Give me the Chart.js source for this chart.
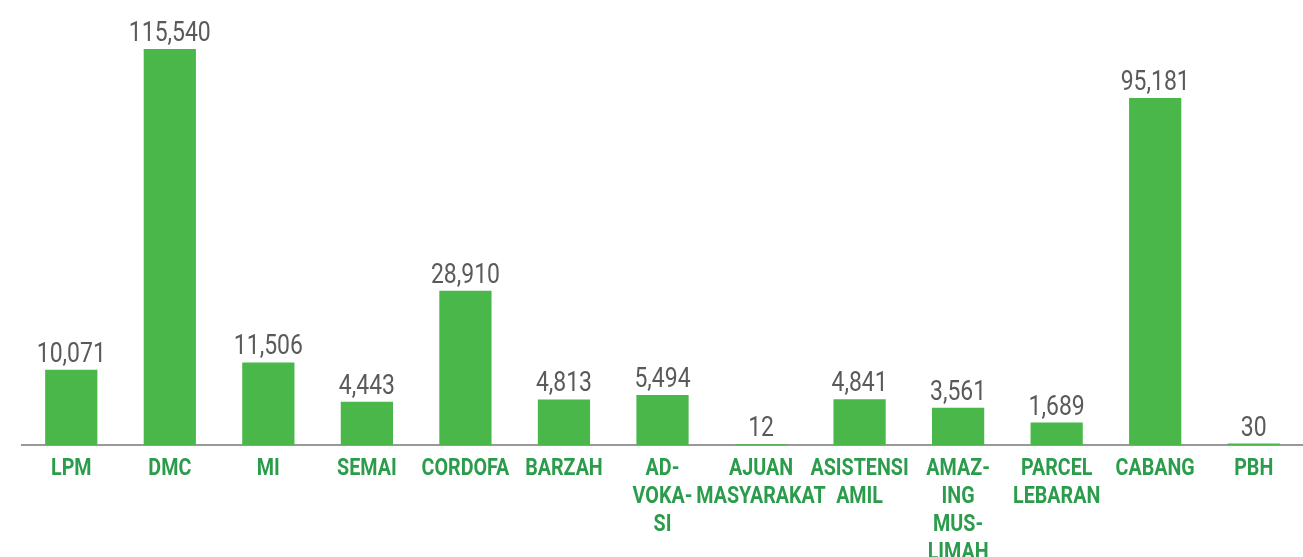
<!DOCTYPE html>
<html>
<head>
<meta charset="utf-8">
<script src="https://cdn.jsdelivr.net/npm/chart.js@4"></script>
<style>
  html, body { margin: 0; padding: 0; background: #fff; }
  #wrap { width: 1303px; height: 557px; position: relative; }
</style>
</head>
<body>
<div id="wrap"><canvas id="chart"></canvas></div>
<script>
// categories (multi-line labels as shown under the axis)
const categories = [
    ['LPM'], ['DMC'], ['MI'], ['SEMAI'], ['CORDOFA'], ['BARZAH'],
    ['AD-', 'VOKA-', 'SI'], ['AJUAN', 'MASYARAKAT'], ['ASISTENSI', 'AMIL'],
    ['AMAZ-', 'ING', 'MUS-', 'LIMAH'], ['PARCEL', 'LEBARAN'], ['CABANG'], ['PBH']
];
const values = [10071, 115540, 11506, 4443, 28910, 4813, 5494, 12, 4841, 3561, 1689, 95181, 30];

const BAR_GREEN = '#49b74a';
const LABEL_GREEN = '#2b9c4b';
const VALUE_GREY = '#5a5a5a';
const FONT = "Roboto, 'Liberation Sans', sans-serif";
const NARROW_X = 0.82; // horizontal squeeze to mimic the condensed face

// the picture's bars are not linear in value; a power scale fits them closely
const POW_EXP = 0.68;
class PowScale extends Chart.LinearScale {
    getPixelForValue(value) {
        if (value === null || value === undefined) return NaN;
        const t = Math.max(0, (value - this.min) / (this.max - this.min));
        return this.getPixelForDecimal(Math.pow(t, POW_EXP));
    }
    getValueForPixel(pixel) {
        const d = Math.max(0, this.getDecimalForPixel(pixel));
        return this.min + Math.pow(d, 1 / POW_EXP) * (this.max - this.min);
    }
}
PowScale.id = 'pow';
PowScale.defaults = Chart.LinearScale.defaults;
Chart.register(PowScale);

function narrowText(ctx, text, x, y) {
    ctx.save();
    ctx.translate(x, y);
    ctx.scale(NARROW_X, 1);
    ctx.fillText(text, 0, 0);
    ctx.restore();
}

// value labels above bars + category labels under the axis
const labelPlugin = {
    id: 'labels',
    afterDatasetsDraw(chart) {
        const ctx = chart.ctx;
        const meta = chart.getDatasetMeta(0);
        const xScale = chart.scales.x;
        const base = chart.chartArea.bottom;
        ctx.save();
        ctx.textAlign = 'center';
        ctx.textBaseline = 'alphabetic';

        ctx.font = '28px ' + FONT;
        ctx.fillStyle = VALUE_GREY;
        meta.data.forEach((el, i) => {
            narrowText(ctx, values[i].toLocaleString('en-US'), el.x, el.y - 8);
        });

        ctx.font = 'bold 24px ' + FONT;
        ctx.fillStyle = LABEL_GREEN;
        categories.forEach((lines, i) => {
            const x = xScale.getPixelForValue(i);
            lines.forEach((ln, j) => {
                narrowText(ctx, ln, x, base + 30 + j * 28);
            });
        });
        ctx.restore();
    }
};

new Chart(document.getElementById('chart'), {
    type: 'bar',
    data: {
        labels: categories.map(c => c.join(' ')),
        datasets: [{
            data: values,
            backgroundColor: BAR_GREEN,
            borderWidth: 0,
            barPercentage: 0.53,
            categoryPercentage: 1.0
        }]
    },
    options: {
        responsive: true,
        maintainAspectRatio: false,
        animation: false,
        layout: { padding: { left: 22, right: 0, top: 49, bottom: 104 } },
        plugins: { legend: { display: false }, tooltip: { enabled: false } },
        scales: {
            x: {
                grid: { display: false },
                ticks: { display: false },
                border: { display: true, color: '#999999', width: 2 }
            },
            y: {
                type: 'pow',
                min: 0,
                max: 115540,
                display: false
            }
        }
    },
    plugins: [labelPlugin]
});
</script>
</body>
</html>
